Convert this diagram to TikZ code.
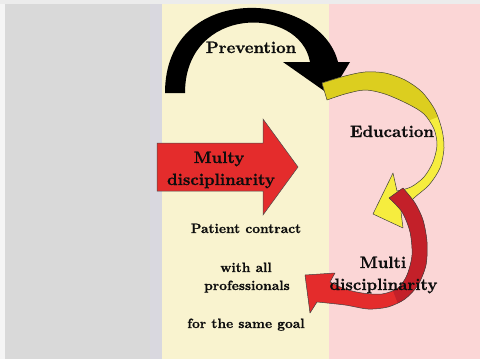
\documentclass[tikz,border=0pt]{standalone}
\usepackage{fontspec}
\newfontfamily\heavyfont{lmroman10-bold}[Extension=.otf, FakeBold=0.8]
\begin{document}
\begin{tikzpicture}[x=1pt,y=-1pt,
  lbl/.style={inner sep=0pt, anchor=base, text=black!95, font=\heavyfont\fontsize{16.5}{18}\selectfont},
  sml/.style={inner sep=0pt, anchor=base, text=black!95, font=\heavyfont\fontsize{13.5}{15}\selectfont},
  outl/.style={draw=black!75, line width=0.5pt, line join=round}]
\definecolor{bgw}{HTML}{F5F5F5}
\definecolor{topg}{HTML}{ECECEC}
\definecolor{pgray}{HTML}{D9D9D9}
\definecolor{pedge}{HTML}{D9D8DF}
\definecolor{pyel}{HTML}{F9F3CF}
\definecolor{ppink}{HTML}{FBD6D6}
\definecolor{redA}{HTML}{E42C2C}
\definecolor{redD}{HTML}{C32029}
\definecolor{yelL}{HTML}{F6ED3E}
\definecolor{yelD}{HTML}{DCCE1F}
\useasboundingbox (0,0) rectangle (480,359);
% panels
\fill[bgw] (0,0) rectangle (480,359);
\fill[topg] (0,0) rectangle (480,4);
\fill[pgray] (5,4) rectangle (162,359);
\fill[pedge] (150,4) rectangle (162,359);
\fill[pyel] (162,4) rectangle (329,359);
\fill[ppink] (329,4) rectangle (480,359);
% black curved arrow
\fill[black] (165,93) .. controls (165,-20) and (320,-10) .. (338,62)
  -- (350,62) -- (330,95) -- (283,62) -- (310,62)
  .. controls (300,5) and (185,5) .. (185,93) -- cycle;
% yellow curved arrow
\def\yelshape{(322,83) -- plot[smooth] coordinates {(322,83) (345,76) (365,72) (385,73) (405,80) (422,92) (435,110) (442,130) (444,148) (440,168) (429,185) (414,198) (401,212)}
  -- (403,228) -- (373,214) -- (393,173) -- (397,191)
  -- plot[smooth] coordinates {(397,191) (411,187) (424,177) (433,162) (437,145) (434,129) (424,114) (408,104) (385,94) (365,90) (345,94) (327,100)} -- cycle}
\fill[yelL] \yelshape;
\begin{scope}
  \clip \yelshape;
  \fill[yelD] (300,40) -- (470,40) -- (470,104) -- (410,128) -- (300,128) -- cycle;
\end{scope}
\draw[outl] \yelshape;
% red curved arrow
\def\redshape{(403,188) -- plot[smooth] coordinates {(403,188) (415,203) (423,220) (427,242) (426,265) (418,285) (405,299) (388,307) (368,309) (345,305) (317,302)}
  -- (310,313) -- (305,275) -- (335,273) -- (330,282)
  -- plot[smooth] coordinates {(330,282) (345,289) (362,293) (382,294) (398,288) (407,275) (412,255) (410,232) (402,212) (389,198)} -- cycle}
\fill[redA] \redshape;
\begin{scope}
  \clip \redshape;
  \fill[redD] (380,180) -- (470,180) -- (470,330) -- (408,330) -- (385,270) -- cycle;
\end{scope}
\draw[outl] \redshape;
% straight red arrow
\filldraw[fill=redA, draw=black!70, line width=0.5pt, line join=miter]
  (157,143) -- (263,143) -- (263,119) -- (298,167) -- (263,215) -- (263,191) -- (157,191) -- cycle;
% labels
\node[lbl] (prev) at (251,53) {Prevention};
\node[lbl] (edu) at (392,137) {Education};
\node[lbl] (multi) at (383,268) {Multi};
\node[lbl] (disc) at (383.5,290) {disciplinarity};
\node[lbl] (multy) at (219,163) {Multy};
\node[lbl] (disc2) at (221,185) {disciplinarity};
\node[sml] (pc) at (246,233) {Patient contract};
\node[sml] (wa) at (246,272) {with all};
\node[sml] (prof) at (247,290) {professionals};
\node[sml] (goal) at (246,328) {for the same goal};
\end{tikzpicture}
\end{document}
